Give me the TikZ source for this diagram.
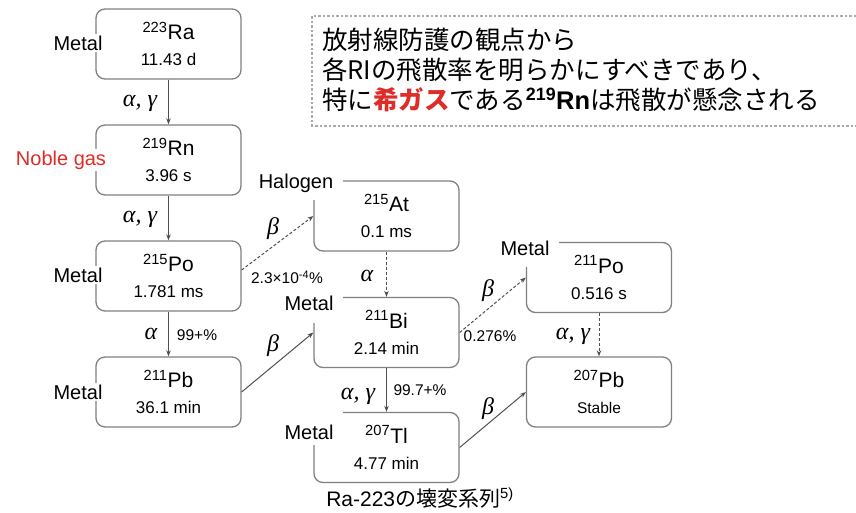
\documentclass[tikz,border=0pt]{standalone}
\usepackage{fontspec}
\setmainfont{Liberation Sans}
\newfontfamily\jp{Noto Sans CJK JP}
\newfontfamily\grk{Liberation Serif}
\usetikzlibrary{arrows.meta,calc}
\definecolor{boxgray}{RGB}{128,128,128}
\definecolor{arrgray}{RGB}{80,80,80}
\definecolor{nred}{RGB}{222,45,40}
\definecolor{dashgray}{RGB}{170,170,170}
\newcommand\nuc[3]{{\fontsize{21}{26}\selectfont\textsuperscript{#1}#2}\\#3}
\begin{document}
\begin{tikzpicture}[x=1pt,y=-1pt,
  nbox/.style={draw=boxgray,line width=1.3pt,rounded corners=9pt,minimum width=145pt,minimum height=70pt,align=center,inner sep=0pt,font=\fontsize{17}{26}\selectfont},
  lab/.style={fill=white,inner sep=2pt,font=\fontsize{20}{24}\selectfont},
  clab/.style={fill=white,inner xsep=10pt,inner ysep=0pt,anchor=base,font=\fontsize{20}{24}\selectfont},
  arr/.style={draw=arrgray,line width=1pt,-{Stealth[length=6pt,width=4.5pt]}},
  darr/.style={arr,dash pattern=on 3pt off 2pt},
  glab/.style={font=\fontsize{24}{26}\selectfont\grk\itshape,inner sep=1pt},
  plab/.style={font=\fontsize{15.5}{18}\selectfont,inner sep=1pt}]
\useasboundingbox (0,0) rectangle (856,513);
% dashed note frame
\draw[dashgray,line width=1.2pt,dash pattern=on 2.5pt off 2pt] (856,16) -- (312,16) -- (312,126) -- (856,126);
\node[anchor=west,align=left,font=\jp\fontsize{25.5}{30}\selectfont,inner sep=0pt] (note) at (322,70)
 {放射線防護の観点から\\各RIの飛散率を明らかにすべきであり、\\特に{\bfseries\color{nred}希ガス}である{\rmfamily\bfseries\textsuperscript{219}Rn}は飛散が懸念される};
% boxes
\node[nbox] (ra) at (168.5,44) {\nuc{223}{Ra}{11.43 d}};
\node[nbox] (rn) at (168.5,160) {\nuc{219}{Rn}{3.96 s}};
\node[nbox] (po215) at (168.5,276) {\nuc{215}{Po}{1.781 ms}};
\node[nbox] (pb211) at (168.5,392) {\nuc{211}{Pb}{36.1 min}};
\node[nbox] (at) at (386.5,216) {\nuc{215}{At}{0.1 ms}};
\node[nbox] (bi) at (386.5,332.5) {\nuc{211}{Bi}{2.14 min}};
\node[nbox] (tl) at (386.5,447.5) {\nuc{207}{Tl}{4.77 min}};
\node[nbox] (po211) at (599,277.5) {\nuc{211}{Po}{0.516 s}};
\node[nbox] (pb207) at (599,392) {\nuc{207}{Pb}{\fontsize{15.5}{26}\selectfont Stable}};
% side labels
\node[lab] (mra) at (78,43) {Metal};
\node[lab,text=nred] (mrn) at (61,160) {Noble gas};
\node[lab] (mpo) at (78,275) {Metal};
\node[lab] (mpb) at (78,392) {Metal};
\node[clab,text height=24pt,text depth=11pt] (hat) at (296,189) {Halogen};
\node[clab,text height=20pt,text depth=13pt] (mbi) at (309,310) {Metal};
\node[clab,text height=31pt,text depth=6pt] (mtl) at (309,439) {Metal};
\node[clab,text height=19pt,text depth=12pt] (mpo2) at (525,255) {Metal};
% arrows
\draw[arr] (ra) -- (rn);
\draw[arr] (rn) -- (po215);
\draw[arr] (po215) -- (pb211);
\draw[darr] (at) -- (bi);
\draw[arr] (bi) -- (tl);
\draw[darr] (po211) -- (pb207);
\draw[darr] ($(po215.east)+(0,-6)$) -- (at.west);
\draw[arr] (pb211.east) -- (bi.west);
\draw[darr] (bi.east) -- (po211.west);
\draw[arr] (tl.east) -- (pb207.west);
% arrow labels
\node[glab] (g1) at (140,103) {α, γ};
\node[glab] (g2) at (140,219) {α, γ};
\node[glab] (g3) at (151,334) {α};
\node[plab] (p1) at (197,335) {99+\%};
\node[glab] (g4) at (273,229) {β};
\node[plab] (p2) at (287,277) {2.3×10\textsuperscript{-4}\%};
\node[glab] (g5) at (367,276) {α};
\node[glab] (g6) at (273,346) {β};
\node[glab] (g7) at (488,291) {β};
\node[plab] (p3) at (490,336) {0.276\%};
\node[glab] (g8) at (573,336) {α, γ};
\node[glab] (g9) at (358,396) {α, γ};
\node[plab] (p4) at (420,390) {99.7+\%};
\node[glab] (g10) at (488,409) {β};
% caption
\node (cap) at (420,498) {\fontsize{21}{24}\selectfont Ra-223{\jp の壊変系列}\textsuperscript{5)}};
\end{tikzpicture}
\end{document}
